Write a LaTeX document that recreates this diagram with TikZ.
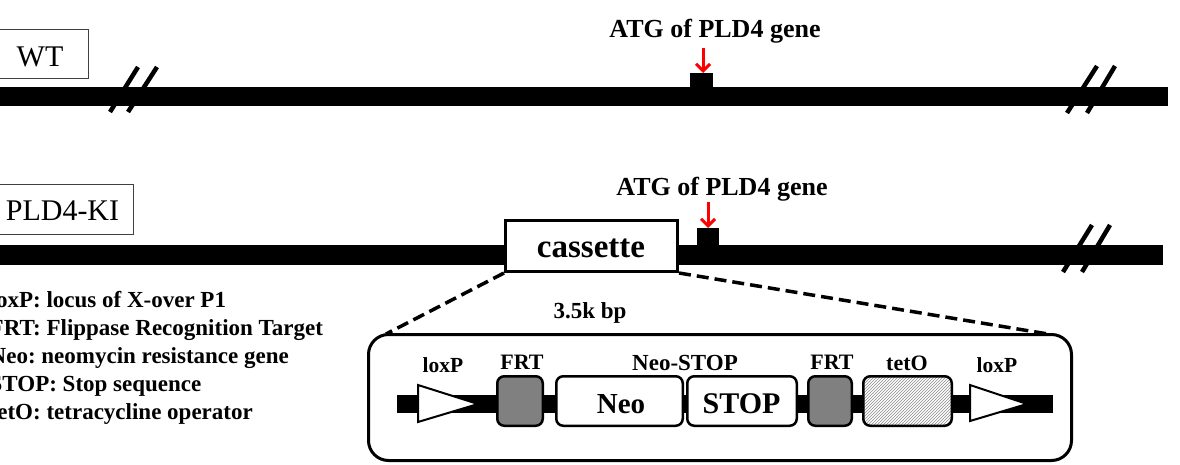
\documentclass[tikz,border=0pt]{standalone}
\usepackage{fontspec}
\setmainfont{Liberation Serif}
\usetikzlibrary{patterns,arrows.meta}
\newcommand{\txs}[3]{\scalebox{#1}[1]{\fontsize{#2}{#2}\selectfont #3}}
\definecolor{frtgray}{HTML}{808080}
\frenchspacing
\begin{document}
\begin{tikzpicture}[x=1pt,y=-1pt,
  bar/.style={fill=black,draw=none,inner sep=0pt,outer sep=0pt},
  brk/.style={line width=4.5pt,black},
  lbl/.style={inner sep=0pt,outer sep=0pt,anchor=base},
  namebox/.style={draw=black!75,line width=1pt,fill=white,inner sep=0pt},
  atgarrow/.style={red,line width=3pt,-{Straight Barb[length=7pt,width=14pt]}},
  elem/.style={draw=black,line width=2.5pt,rounded corners=7pt,inner sep=0pt},
  loxtri/.style={draw=black,line width=2pt,fill=white,line join=miter},
  zoomline/.style={line width=3.5pt,dash pattern=on 12pt off 6pt},
  legend/.style={inner sep=0pt,anchor=base west,font=\bfseries\fontsize{23}{23}\selectfont}]
\useasboundingbox (0,0) rectangle (1180,465);

% ---------- WT ----------
\node[namebox,minimum width=90pt,minimum height=49pt] (wt) at (43,54.5) {};
\node[lbl] (wtlbl) at (40,67) {\fontsize{30}{30}\selectfont WT};
\node[bar,minimum width=1168pt,minimum height=19pt,anchor=north west] (wtbar) at (0,87) {};
\draw[brk] (110,112) -- (138,67);
\draw[brk] (128,112) -- (157,67);
\draw[brk] (1067,113) -- (1097,66);
\draw[brk] (1087,113) -- (1115,66);
\node[bar,minimum width=23pt,minimum height=15pt,anchor=north west] (atg1) at (690,73) {};
\node[lbl] (atgt1) at (715,38) {\txs{1}{26}{\bfseries ATG of PLD4 gene}};
\coordinate (a1) at (703,48);
\draw[atgarrow] (a1) -- (atg1.north -| a1);

% ---------- PLD4-KI ----------
\node[namebox,minimum width=135pt,minimum height=49pt] (ki) at (65.5,209.5) {};
\node[lbl] (kilbl) at (62.5,221) {\fontsize{30}{30}\selectfont PLD4-KI};
\node[bar,minimum width=1163pt,minimum height=20pt,anchor=north west] (kibar) at (0,245) {};
\draw[brk] (1063,272) -- (1092,225);
\draw[brk] (1082,272) -- (1110,225);
\node[bar,minimum width=22pt,minimum height=18pt,anchor=north west] (atg2) at (697,228) {};
\node[lbl] (atgt2) at (722,196) {\txs{1}{26}{\bfseries ATG of PLD4 gene}};
\coordinate (a2) at (708,202);
\draw[atgarrow] (a2) -- (atg2.north -| a2);

\node[draw=black,line width=3pt,fill=white,inner sep=0pt,minimum width=172pt,minimum height=51pt] (cas) at (591.5,246) {};
\node[lbl] (caslbl) at (591,257) {\txs{1}{33}{\bfseries cassette}};

% ---------- legend ----------
\node[legend] (lg1) at (-10.5,307) {loxP: locus of X-over P1};
\node[legend] (lg2) at (-10.5,335) {FRT: Flippase Recognition Target};
\node[legend] (lg3) at (-10.5,363) {Neo: neomycin resistance gene};
\node[legend] (lg4) at (-10.5,391) {STOP: Stop sequence};
\node[legend] (lg5) at (-10.5,419) {tetO: tetracycline operator};

% ---------- zoomed cassette ----------
\node[draw=black,line width=3pt,rounded corners=20pt,inner sep=0pt,minimum width=703pt,minimum height=126pt] (mbox) at (720,397.5) {};
\coordinate (zl) at (386,334);
\coordinate (zr) at (1048,334);
\draw[zoomline] (cas.south west) -- (zl);
\draw[zoomline] (cas.south east) -- (zr);
\node[lbl] (bp) at (590,318) {\txs{1}{23}{\bfseries 3.5k bp}};

\node[bar,minimum width=656pt,minimum height=18pt,anchor=north west] (inbar) at (397,395) {};
\draw[loxtri] (418,385) -- (418,422) -- (478,404) -- cycle;
\draw[loxtri] (970,385) -- (970,421) -- (1027,404) -- cycle;
\node[elem,fill=frtgray,minimum width=45.5pt,minimum height=49.5pt] (frt1) at (520,401) {};
\node[elem,fill=white,minimum width=126.5pt,minimum height=49.5pt] (neo) at (619.5,401) {};
\node[elem,fill=white,minimum width=109.5pt,minimum height=49.5pt] (stop) at (742,401) {};
\node[elem,fill=frtgray,minimum width=43.5pt,minimum height=49.5pt] (frt2) at (830,401) {};
\node[elem,preaction={fill=white},pattern=north east lines,pattern color=black!45,minimum width=88.5pt,minimum height=49.5pt] (teto) at (907.5,401) {};

\node[lbl] (neot) at (621,413) {\fontsize{29}{29}\selectfont\bfseries Neo};
\node[lbl] (stopt) at (741.5,413) {\fontsize{30}{30}\selectfont\bfseries STOP};
\node[lbl] (lox1t) at (443,372) {\txs{1}{21.5}{\bfseries loxP}};
\node[lbl] (frt1t) at (522,369) {\txs{1}{22}{\bfseries FRT}};
\node[lbl] (neostopt) at (685,370) {\txs{1}{23}{\bfseries Neo-STOP}};
\node[lbl] (frt2t) at (832,369) {\txs{1}{22}{\bfseries FRT}};
\node[lbl] (tetot) at (907,370) {\txs{1}{22}{\bfseries tetO}};
\node[lbl] (lox2t) at (997,372) {\txs{1}{21.5}{\bfseries loxP}};
\end{tikzpicture}
\end{document}
